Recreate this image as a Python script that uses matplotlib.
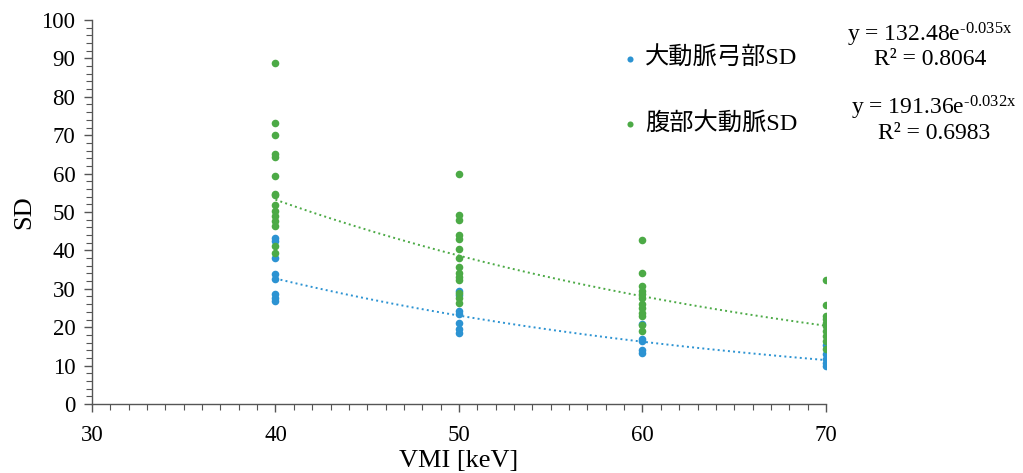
import numpy as np
import matplotlib
matplotlib.use("Agg")
import matplotlib.pyplot as plt
from matplotlib.ticker import MultipleLocator

plt.rcParams['font.family'] = ['Liberation Serif', 'Noto Sans CJK JP']
plt.rcParams['mathtext.fontset'] = 'custom'
plt.rcParams['mathtext.rm'] = 'Liberation Serif'
plt.rcParams['mathtext.it'] = 'Liberation Serif:italic'

# ---- data ----
arch_x = [40]*8 + [50]*7 + [60]*5 + [70]*5
arch_sd = [43.3, 42.4, 38.1, 33.9, 32.5, 28.6, 27.7, 26.8,
           29.4, 28.5, 24.2, 23.4, 21.2, 19.5, 18.4,
           20.8, 16.9, 16.4, 14.1, 13.2,
           15.3, 13.0, 11.7, 10.6, 9.9]
abd_x = [40]*15 + [50]*14 + [60]*12 + [70]*10
abd_sd = [88.8, 73.3, 70.1, 65.1, 64.3, 59.3, 54.8, 54.3, 51.9, 50.2, 48.9, 47.6, 46.3, 41.1, 39.4,
          59.9, 49.1, 47.8, 43.9, 42.9, 40.3, 38.1, 35.8, 34.2, 33.1, 32.2, 29.0, 27.7, 26.4,
          42.6, 34.2, 30.7, 29.4, 28.6, 27.7, 26.0, 25.1, 23.8, 22.9, 20.5, 19.0,
          32.2, 25.7, 22.9, 22.1, 21.2, 20.3, 19.0, 17.7, 16.4, 14.3]
arch_label = '大動脈弓部SD'
abd_label = '腹部大動脈SD'
arch_fit = (132.48, '0.035', 0.8064)
abd_fit = (191.36, '0.032', 0.6983)
fit_range = (40, 70)

blue = '#2C93D2'
green = '#4CAA46'

fig = plt.figure(figsize=(10.23, 4.73), dpi=100)
ax = fig.add_axes([0.0899, 0.1459, 0.7175, 0.8118])

ax.scatter(arch_x, arch_sd, s=30, color=blue, label=arch_label, zorder=3, linewidths=0)
ax.scatter(abd_x, abd_sd, s=30, color=green, label=abd_label, zorder=3, linewidths=0)

xf = np.linspace(fit_range[0], fit_range[1], 200)
ax.plot(xf, arch_fit[0]*np.exp(-float(arch_fit[1])*xf), ls=':', color=blue, lw=1.4, zorder=2)
ax.plot(xf, abd_fit[0]*np.exp(-float(abd_fit[1])*xf), ls=':', color=green, lw=1.4, zorder=2)

ax.set_xlim(30, 70)
ax.set_ylim(0, 100)
ax.xaxis.set_major_locator(MultipleLocator(10))
ax.xaxis.set_minor_locator(MultipleLocator(1))
ax.yaxis.set_major_locator(MultipleLocator(10))
ax.yaxis.set_minor_locator(MultipleLocator(2))
for s in ['top', 'right']:
    ax.spines[s].set_visible(False)
for s in ['left', 'bottom']:
    ax.spines[s].set_color('#555555')
    ax.spines[s].set_linewidth(1.0)
ax.tick_params(which='major', direction='out', length=6, width=1.0, color='#555555', labelsize=16.5, pad=6)
ax.tick_params(axis='x', which='major', pad=9)
ax.tick_params(which='minor', direction='out', length=4, width=0.8, color='#555555')
ax.set_xlabel('VMI [keV]', fontsize=19, labelpad=3)
ax.set_ylabel('SD', fontsize=19, labelpad=4)

leg = ax.legend(loc='upper left', bbox_to_anchor=(0.706, 0.955), frameon=False,
                fontsize=17.5, handletextpad=0.25, labelspacing=1.75, markerscale=0.8,
                handlelength=0.8, borderaxespad=0)

def eq(a, b):
    return r'y = %.2fe$^{\mathregular{\text{-}%sx}}$' % (a, b)

fig.text(0.909, 0.926, eq(arch_fit[0], arch_fit[1]), ha='center', va='center', fontsize=17)
fig.text(0.909, 0.875, 'R² = %.4f' % arch_fit[2], ha='center', va='center', fontsize=17)
fig.text(0.913, 0.772, eq(abd_fit[0], abd_fit[1]), ha='center', va='center', fontsize=17)
fig.text(0.913, 0.717, 'R² = %.4f' % abd_fit[2], ha='center', va='center', fontsize=17)

fig.savefig('out.png', dpi=100)
